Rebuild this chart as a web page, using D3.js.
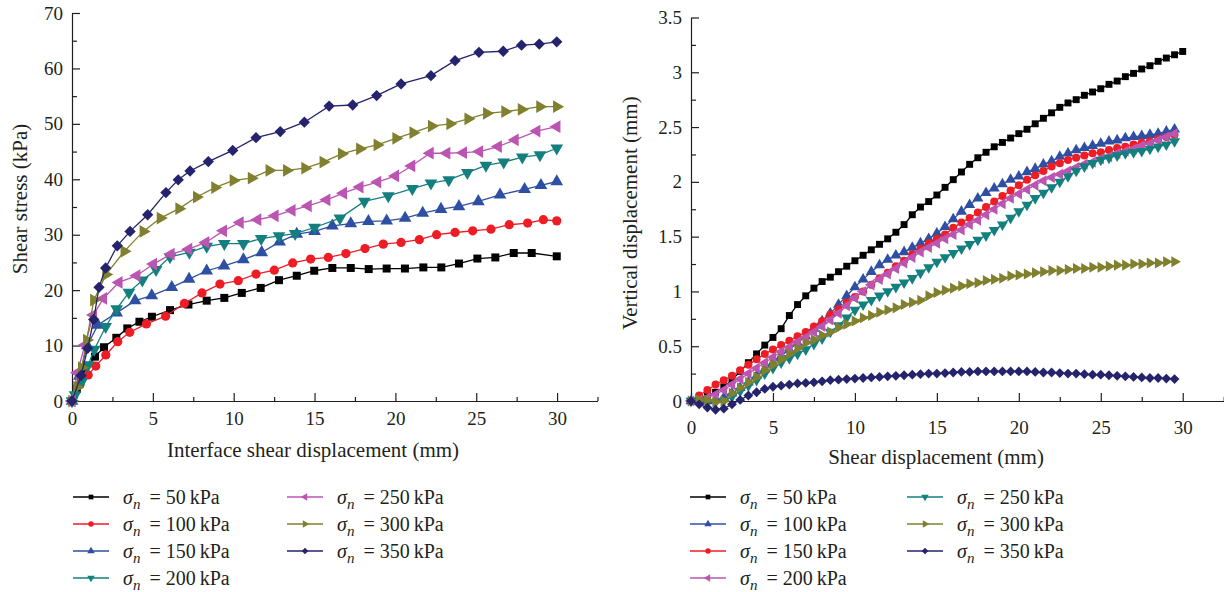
<!DOCTYPE html>
<html>
<head>
<meta charset="utf-8">
<script src="https://cdn.jsdelivr.net/npm/d3@7"></script>
<style>
    body {margin: 0; background: #fff;}
    svg text {font-family: "Liberation Serif", "Times New Roman", serif !important; fill: #231f20;}
    .axis path, .axis line {stroke: #231f20; stroke-width: 1.2;}
    .axis text {font-size: 19px !important;}
    .title {font-size: 21px;}
    .legend text {font-size: 20px;}
</style>
</head>
<body>
<svg id="chart" width="1224" height="592"></svg>
<script>
    // ---- left chart: interface shear stress vs displacement ----
    let leftLabels = ["50", "100", "150", "200", "250", "300", "350"];

    let leftX50 = [0,0.3,0.7,1.42,1.98,2.74,3.42,4.17,4.94,6.06,7.2,8.33,9.42,10.5,11.67,12.8,13.9,14.98,16.1,17.24,18.35,19.46,20.59,21.73,22.84,23.93,25.07,26.18,27.32,28.43,29.98];
    let leftY50 = [0,2.2,5.0,8.0,9.7,11.4,13.1,14.3,15.2,16.4,17.4,18.1,18.6,19.5,20.4,21.8,22.6,23.5,24.0,24.0,23.8,23.9,23.9,24.1,24.1,24.8,25.7,25.9,26.7,26.7,26.1];

    let leftX100 = [0,0.5,1.0,1.47,2.09,2.83,3.57,4.6,5.79,6.95,8.04,9.15,10.28,11.38,12.51,13.65,14.76,15.85,16.94,18.12,19.25,20.35,21.48,22.55,23.69,24.78,25.91,27.04,28.18,29.15,29.98];
    let leftY100 = [0,3.0,4.7,6.3,8.3,10.7,12.4,13.9,15.3,17.6,19.5,21.1,21.7,22.9,23.6,24.9,25.6,25.9,26.6,27.5,28.3,28.6,29.1,30.0,30.4,30.7,31.0,31.8,32.1,32.7,32.5];

    let leftX150 = [0,0.45,0.95,1.6,2.76,3.9,4.93,6.17,7.24,8.33,9.4,10.6,11.73,12.84,13.9,15.0,16.1,17.24,18.33,19.46,20.6,21.69,22.82,23.93,25.13,26.47,27.99,29.0,29.98];
    let leftY150 = [0,4.5,10.0,13.7,15.9,18.1,19.0,20.5,22.0,23.5,24.4,25.5,26.8,28.7,30.1,30.6,31.6,32.0,32.4,32.5,33.0,33.9,34.6,35.1,36.0,37.2,38.2,38.9,39.6];

    let leftX200 = [0,0.19,0.6,1.0,1.38,2.08,2.76,3.52,4.35,5.2,6.06,7.26,8.33,9.42,10.6,11.7,12.8,13.8,15.0,16.57,18.08,19.56,21.05,22.2,23.3,24.45,25.6,26.7,27.85,28.94,29.98];
    let leftY200 = [0,1.1,3.5,6.5,9.3,13.4,16.6,19.6,21.8,23.7,26.0,26.8,27.9,28.4,28.4,29.3,29.8,30.2,31.3,33.0,36.0,37.0,38.3,39.3,39.9,41.2,42.5,43.1,44.0,44.4,45.6];

    let leftX250 = [0,0.33,0.8,1.32,1.94,2.9,4.0,5.03,6.12,7.21,8.27,9.36,10.39,11.48,12.55,13.6,14.6,15.75,16.78,17.8,18.9,20.0,21.0,22.14,23.17,24.2,25.2,26.36,27.4,28.74,29.98];
    let leftY250 = [0,5.1,10.1,15.5,18.5,21.4,22.6,24.7,26.5,27.4,28.6,30.7,32.2,32.7,33.4,34.4,35.2,36.3,37.5,38.6,39.5,40.6,42.4,44.7,44.7,44.8,45.0,45.9,47.1,48.7,49.5];

    let leftX300 = [0,0.3,0.6,0.91,1.35,2.1,3.23,4.41,5.47,6.62,7.71,8.84,9.98,11.1,12.2,13.28,14.41,15.54,16.68,17.8,18.88,20.04,21.1,22.24,23.38,24.5,25.65,26.78,27.8,28.94,29.98];
    let leftY300 = [0,2.5,6.0,11.0,18.2,22.8,27.0,30.6,33.0,34.7,36.8,38.5,39.8,40.2,41.6,41.6,42.0,43.1,44.6,45.5,46.2,47.4,48.4,49.6,50.0,50.9,51.9,52.2,52.6,53.1,53.1];

    let leftX350 = [0,0.56,0.97,1.34,1.67,2.08,2.8,3.59,4.68,5.81,6.57,7.3,8.43,9.94,11.38,12.88,14.37,15.9,17.36,18.84,20.35,22.2,23.69,25.17,26.67,27.8,28.9,29.98];
    let leftY350 = [0,4.6,9.5,14.7,20.5,24.0,28.0,30.6,33.6,37.6,39.9,41.5,43.2,45.2,47.5,48.6,50.3,53.2,53.4,55.1,57.2,58.7,61.4,62.9,63.1,64.2,64.4,64.8];

    let leftYTicks = [0, 10, 20, 30, 40, 50, 60, 70];
    let leftXTicks = [0, 5, 10, 15, 20, 25, 30];

    // ---- right chart: vertical vs shear displacement ----
    let rightLabels = ["50", "100", "150", "200", "250", "300", "350"];

    let rightX = [0,0.5,1,1.5,2,2.5,3,3.5,4,4.5,
        5,5.5,6,6.5,7,7.5,8,8.5,9,9.5,
        10,10.5,11,11.5,12,12.5,13,13.5,14,14.5,
        15,15.5,16,16.5,17,17.5,18,18.5,19,19.5,
        20,20.5,21,21.5,22,22.5,23,23.5,24,24.5,
        25,25.5,26,26.5,27,27.5,28,28.5,29,29.5,
        30];

    let right50 = [0,0.03,0.05,0.08,0.13,0.19,0.27,0.35,0.43,0.51,
        0.58,0.66,0.78,0.88,0.96,1.03,1.09,1.13,1.18,1.23,
        1.28,1.33,1.38,1.43,1.48,1.54,1.61,1.70,1.77,1.82,
        1.88,1.95,2.02,2.09,2.16,2.22,2.27,2.32,2.36,2.40,
        2.44,2.48,2.53,2.58,2.63,2.68,2.72,2.75,2.79,2.82,
        2.85,2.89,2.92,2.96,2.99,3.03,3.06,3.10,3.13,3.16,
        3.19];
    let right100 = [0,0,0,0.01,0.03,0.07,0.12,0.17,0.23,0.29,
        0.35,0.41,0.47,0.53,0.59,0.66,0.73,0.80,0.88,0.96,
        1.04,1.11,1.18,1.24,1.29,1.33,1.36,1.40,1.44,1.48,
        1.53,1.59,1.66,1.73,1.79,1.85,1.90,1.94,1.98,2.02,
        2.05,2.09,2.12,2.16,2.19,2.23,2.26,2.29,2.31,2.33,
        2.35,2.37,2.38,2.40,2.41,2.42,2.43,2.44,2.46,2.48];
    let right150 = [0,0.05,0.10,0.15,0.19,0.23,0.28,0.33,0.38,0.43,
        0.47,0.51,0.55,0.59,0.63,0.68,0.73,0.79,0.84,0.90,
        0.95,1.00,1.06,1.12,1.17,1.23,1.28,1.34,1.39,1.44,
        1.48,1.52,1.58,1.63,1.67,1.72,1.77,1.82,1.87,1.92,
        1.97,2.02,2.06,2.10,2.14,2.17,2.20,2.22,2.24,2.26,
        2.27,2.29,2.31,2.32,2.34,2.36,2.37,2.39,2.41,2.43];
    let right200 = [0,0.01,0.03,0.06,0.10,0.15,0.20,0.25,0.30,0.35,
        0.40,0.45,0.49,0.54,0.58,0.63,0.68,0.74,0.80,0.87,
        0.94,1.00,1.06,1.11,1.16,1.21,1.26,1.31,1.36,1.40,
        1.44,1.48,1.52,1.56,1.61,1.65,1.70,1.75,1.80,1.85,
        1.89,1.93,1.97,2.01,2.04,2.07,2.10,2.13,2.16,2.18,
        2.21,2.23,2.26,2.28,2.30,2.33,2.35,2.38,2.41,2.44];
    let right250 = [0,0,-0.01,-0.01,0,0.04,0.09,0.14,0.19,0.25,
        0.30,0.35,0.39,0.43,0.47,0.52,0.57,0.63,0.69,0.76,
        0.83,0.88,0.92,0.96,1.00,1.04,1.08,1.12,1.17,1.22,
        1.27,1.31,1.35,1.39,1.43,1.47,1.51,1.56,1.61,1.67,
        1.73,1.79,1.85,1.90,1.95,2.00,2.05,2.10,2.14,2.17,
        2.20,2.22,2.24,2.26,2.27,2.28,2.30,2.32,2.34,2.37];
    let right300 = [0,0.01,0.01,-0.01,0,0.07,0.12,0.17,0.22,0.28,
        0.33,0.38,0.43,0.48,0.53,0.56,0.60,0.63,0.67,0.70,
        0.73,0.76,0.78,0.81,0.83,0.85,0.88,0.90,0.92,0.96,
        0.99,1.01,1.03,1.05,1.07,1.08,1.10,1.11,1.12,1.14,
        1.15,1.16,1.17,1.18,1.19,1.19,1.20,1.21,1.21,1.22,
        1.22,1.23,1.24,1.24,1.25,1.25,1.26,1.26,1.27,1.27];
    let right350 = [0,-0.03,-0.06,-0.08,-0.07,-0.03,0.01,0.05,0.08,0.11,
        0.13,0.14,0.15,0.16,0.165,0.17,0.18,0.19,0.195,0.20,
        0.205,0.21,0.215,0.22,0.225,0.23,0.235,0.24,0.245,0.25,
        0.25,0.255,0.26,0.265,0.265,0.27,0.27,0.27,0.27,0.27,
        0.27,0.27,0.265,0.26,0.26,0.255,0.25,0.25,0.245,0.24,
        0.24,0.235,0.23,0.225,0.22,0.215,0.21,0.21,0.205,0.20];

    let rightYTicks = [0, 0.5, 1, 1.5, 2, 2.5, 3, 3.5];
    let rightXTicks = [0, 5, 10, 15, 20, 25, 30];

    // ---- styling ----
    let black = "#000000", red = "#ee1d25", blue = "#2f4fa2", teal = "#13807f",
        magenta = "#bb55b1", olive = "#80802f", navy = "#24236b";
    let serif = "'Liberation Serif', 'Times New Roman', serif";

    let shapes = {
        square: {type: d3.symbolSquare, rot: 0, k: 1},
        circle: {type: d3.symbolCircle, rot: 0, k: 1.05},
        up: {type: d3.symbolTriangle, rot: 0, k: 1.1},
        down: {type: d3.symbolTriangle, rot: 180, k: 1.1},
        left: {type: d3.symbolTriangle, rot: -90, k: 1.1},
        right: {type: d3.symbolTriangle, rot: 90, k: 1.1},
        diamond: {type: d3.symbolSquare, rot: 45, k: 1}
    };

    let svg = d3.select("#chart");

    function drawSeries(g, x, y, xs, ys, color, shape, size) {
        let line = d3.line()
            .x(function(d, i) { return x(xs[i]); })
            .y(function(d) { return y(d); });
        g.append("path")
            .datum(ys)
            .attr("fill", "none")
            .attr("stroke", color)
            .attr("stroke-width", 1.3)
            .attr("d", line);
        let s = shapes[shape];
        let sym = d3.symbol().type(s.type).size(size * s.k);
        g.selectAll(null)
            .data(ys)
            .enter().append("path")
            .attr("d", sym)
            .attr("fill", color)
            .attr("transform", function(d, i) {
                return "translate(" + x(xs[i]) + "," + y(d) + ") rotate(" + s.rot + ")";
            });
    }

    function drawAxes(x, y, xTicks, xMinor, yTicks, yMinor, yFmt, xPad) {
        let g = svg.append("g").attr("class", "axis");
        let x0 = x.range()[0], y0 = y.range()[0];

        g.append("g")
            .attr("transform", "translate(0," + y0 + ")")
            .call(d3.axisBottom(x).tickValues(xMinor).tickSize(-4).tickSizeOuter(0).tickFormat(""));
        g.append("g")
            .attr("transform", "translate(0," + y0 + ")")
            .call(d3.axisBottom(x).tickValues(xTicks).tickSize(-8).tickSizeOuter(0).tickPadding(xPad))
            .select(".domain").remove();

        g.append("g")
            .attr("transform", "translate(" + x0 + ",0)")
            .call(d3.axisLeft(y).tickValues(yMinor).tickSize(-5).tickSizeOuter(0).tickFormat(""));
        g.append("g")
            .attr("transform", "translate(" + x0 + ",0)")
            .call(d3.axisLeft(y).tickValues(yTicks).tickSize(-8).tickSizeOuter(0).tickPadding(9).tickFormat(yFmt))
            .select(".domain").remove();

        g.selectAll("g").attr("font-family", serif).attr("font-size", 19);
        g.selectAll("text").attr("fill", "#231f20")
            .style("font-family", serif).style("font-size", "19px");
    }

    function legendLabel(g, lx, ly, p) {
        let t = g.append("text").attr("x", lx).attr("y", ly)
            .style("font-family", serif).style("font-size", "20px");
        t.append("tspan").style("font-style", "italic").text("σ");
        t.append("tspan").style("font-style", "italic").style("font-size", "15px").attr("dy", 5).text("n");
        t.append("tspan").attr("dy", -5).text("\u2009 = " + p + "\u2009kPa");
    }

    function drawLegend(entries, cols) {
        let g = svg.append("g").attr("class", "legend");
        entries.forEach(function(e, i) {
            let c = cols[i < 4 ? 0 : 1];
            let row = i < 4 ? i : i - 4;
            let ly = 497 + row * 27;
            g.append("line")
                .attr("x1", c.x).attr("x2", c.x + 36)
                .attr("y1", ly).attr("y2", ly)
                .attr("stroke", e.color).attr("stroke-width", 1.5);
            let s = shapes[e.shape];
            g.append("path")
                .attr("d", d3.symbol().type(s.type).size(22 * s.k))
                .attr("fill", e.color)
                .attr("transform", "translate(" + (c.x + 18) + "," + ly + ") rotate(" + s.rot + ")");
            legendLabel(g, c.x + 50, ly + 7, e.label);
        });
    }

    function title(text, tx, ty, rotate) {
        svg.append("text").attr("class", "title")
            .attr("transform", "translate(" + tx + "," + ty + ")" + (rotate ? " rotate(-90)" : ""))
            .attr("text-anchor", "middle")
            .style("font-family", serif).style("font-size", "21px")
            .text(text);
    }

    // ---- left chart ----
    let xL = d3.scaleLinear().domain([0, 32.5]).range([72, 597.5]);
    let yL = d3.scaleLinear().domain([0, 70]).range([401, 13]);

    drawAxes(xL, yL, leftXTicks, [2.5, 7.5, 12.5, 17.5, 22.5, 27.5, 32.5], leftYTicks,
        [5, 15, 25, 35, 45, 55, 65], d3.format("d"), 11);

    let leftSeries = [
        {xs: leftX50, ys: leftY50, color: black, shape: "square", label: leftLabels[0]},
        {xs: leftX100, ys: leftY100, color: red, shape: "circle", label: leftLabels[1]},
        {xs: leftX150, ys: leftY150, color: blue, shape: "up", label: leftLabels[2]},
        {xs: leftX200, ys: leftY200, color: teal, shape: "down", label: leftLabels[3]},
        {xs: leftX250, ys: leftY250, color: magenta, shape: "left", label: leftLabels[4]},
        {xs: leftX300, ys: leftY300, color: olive, shape: "right", label: leftLabels[5]},
        {xs: leftX350, ys: leftY350, color: navy, shape: "diamond", label: leftLabels[6]}
    ];
    let gL = svg.append("g");
    leftSeries.forEach(function(s) { drawSeries(gL, xL, yL, s.xs, s.ys, s.color, s.shape, 64); });

    title("Shear stress (kPa)", 27, 199, true);
    title("Interface shear displacement (mm)", 313, 457, false);

    drawLegend(leftSeries, [{x: 73}, {x: 287}]);

    // ---- right chart ----
    let xR = d3.scaleLinear().domain([0, 32.5]).range([691, 1223.7]);
    let yR = d3.scaleLinear().domain([0, 3.5]).range([401, 17.5]);

    drawAxes(xR, yR, rightXTicks, [2.5, 7.5, 12.5, 17.5, 22.5, 27.5, 32.5], rightYTicks,
        [0.25, 0.75, 1.25, 1.75, 2.25, 2.75, 3.25], function(d) { return String(d); }, 20);

    let rightSeries = [
        {ys: right50, color: black, shape: "square", label: rightLabels[0]},
        {ys: right100, color: blue, shape: "up", label: rightLabels[1]},
        {ys: right150, color: red, shape: "circle", label: rightLabels[2]},
        {ys: right200, color: magenta, shape: "left", label: rightLabels[3]},
        {ys: right250, color: teal, shape: "down", label: rightLabels[4]},
        {ys: right300, color: olive, shape: "right", label: rightLabels[5]},
        {ys: right350, color: navy, shape: "diamond", label: rightLabels[6]}
    ];
    let gR = svg.append("g");
    rightSeries.forEach(function(s) { drawSeries(gR, xR, yR, rightX, s.ys, s.color, s.shape, 48); });

    title("Vertical displacement (mm)", 637, 213, true);
    title("Shear displacement (mm)", 936, 464, false);

    drawLegend(rightSeries, [{x: 690}, {x: 907}]);
</script>
</body>
</html>
